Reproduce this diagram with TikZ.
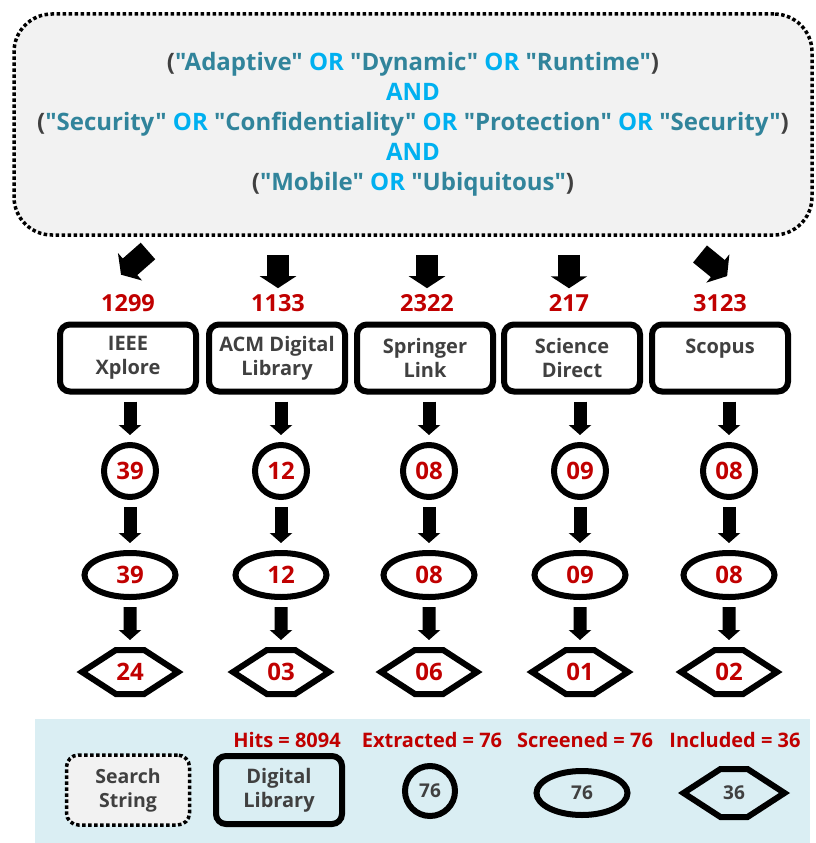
\documentclass[tikz,border=0pt]{standalone}
\usepackage{fontspec}
\setmainfont{Open Sans}[Ligatures=TeXOff]
\usetikzlibrary{shapes.geometric,shapes.symbols,arrows.meta}

\definecolor{hitred}{HTML}{C00000}
\definecolor{termteal}{HTML}{31849B}
\definecolor{opblue}{HTML}{00B0F0}
\definecolor{labelgray}{HTML}{404040}
\definecolor{queryfill}{HTML}{F2F2F2}
\definecolor{legendfill}{HTML}{DAEEF3}

\newcommand{\term}[1]{\textcolor{termteal}{"#1"}}
\newcommand{\op}[1]{\textcolor{opblue}{#1}}

\begin{document}
\begin{tikzpicture}[x=1pt, y=-1pt,
		querybox/.style={draw, line width=3.5pt, dash pattern=on 3.5pt off 2.5pt, fill=queryfill, text=labelgray, align=center},
		libbox/.style={draw, line width=6pt, rounded corners=10pt, minimum width=136pt, minimum height=67pt, text=labelgray, align=center, font=\bfseries\fontsize{20}{24}\selectfont},
		hits/.style={text=hitred, inner sep=1pt, font=\bfseries\fontsize{23.5}{26}\selectfont},
		numnode/.style={draw, line width=6pt, inner sep=0pt, text=hitred, font=\bfseries\fontsize{24}{26}\selectfont},
		extracted/.style={numnode, circle, minimum size=52pt},
		screened/.style={numnode, ellipse, minimum width=91pt, minimum height=44pt},
		included/.style={numnode, signal, signal to=west and east, signal pointer angle=66, minimum width=96pt, minimum height=44pt},
		bigarrow/.style={line width=22pt, -{Triangle[length=12pt, width=36pt]}},
		smallarrow/.style={line width=13pt, -{Triangle[length=10pt, width=22pt]}, shorten <=7pt, shorten >=7pt},
	]
	\useasboundingbox (0,0) rectangle (815,843);

	% Search string
	\node[querybox, rounded corners=38pt, minimum width=798pt, minimum height=221pt, font=\bfseries\fontsize{24}{30}\selectfont] (query) at (413,124.5)
		{(\term{Adaptive} \op{OR} \term{Dynamic} \op{OR} \term{Runtime})\\
		\op{AND}\\
		(\term{Security} \op{OR} \term{Confidentiality} \op{OR} \term{Protection} \op{OR} \term{Security})\\
		\op{AND}\\
		(\term{Mobile} \op{OR} \term{Ubiquitous})};

	% Hits per library
	\node[hits] (ieeeHits) at (128,303) {1299};
	\node[hits] (acmHits) at (278,303) {1133};
	\node[hits] (springerHits) at (427,303) {2322};
	\node[hits] (scienceHits) at (569,303) {217};
	\node[hits] (scopusHits) at (720,303) {3123};

	\coordinate (ieeeTail) at (148,251);
	\coordinate (scopusTail) at (700,254);
	\draw[bigarrow, shorten >=28pt] (ieeeTail) -- (ieeeHits.north west);
	\draw[bigarrow, shorten <=18pt, shorten >=5pt] (query.south -| acmHits) -- (acmHits.north);
	\draw[bigarrow, shorten <=18pt, shorten >=5pt] (query.south -| springerHits) -- (springerHits.north);
	\draw[bigarrow, shorten <=18pt, shorten >=5pt] (query.south -| scienceHits) -- (scienceHits.north);
	\draw[bigarrow, shorten >=27pt] (scopusTail) -- (scopusHits.north east);

	% Digital libraries
	\node[libbox] (ieee) at (128,358) {IEEE\\Xplore};
	\node[libbox] (acm) at (277,358) {ACM Digital\\Library};
	\node[libbox] (springer) at (425,358) {Springer\\Link};
	\node[libbox] (science) at (572,358) {Science\\Direct};
	\node[libbox] (scopus) at (720,358) {Scopus\\~};

	% Extracted
	\node[extracted] (ieeeExt) at (130,471) {39};
	\node[extracted] (acmExt) at (281,471) {12};
	\node[extracted] (springerExt) at (429,471) {08};
	\node[extracted] (scienceExt) at (580,471) {09};
	\node[extracted] (scopusExt) at (729,471) {08};

	% Screened
	\node[screened] (ieeeScr) at (130,575) {39};
	\node[screened] (acmScr) at (281,575) {12};
	\node[screened] (springerScr) at (429,575) {08};
	\node[screened] (scienceScr) at (580,575) {09};
	\node[screened] (scopusScr) at (729,575) {08};

	% Included
	\node[included] (ieeeInc) at (130,672) {24};
	\node[included] (acmInc) at (281,672) {03};
	\node[included] (springerInc) at (429,672) {06};
	\node[included] (scienceInc) at (580,672) {01};
	\node[included] (scopusInc) at (729,672) {02};

	% Arrows between the stages
	\draw[smallarrow] (ieee.south -| ieeeExt) -- (ieeeExt.north);
	\draw[smallarrow] (acm.south -| acmExt) -- (acmExt.north);
	\draw[smallarrow] (springer.south -| springerExt) -- (springerExt.north);
	\draw[smallarrow] (science.south -| scienceExt) -- (scienceExt.north);
	\draw[smallarrow] (scopus.south -| scopusExt) -- (scopusExt.north);

	\draw[smallarrow] (ieeeExt) -- (ieeeScr);
	\draw[smallarrow] (acmExt) -- (acmScr);
	\draw[smallarrow] (springerExt) -- (springerScr);
	\draw[smallarrow] (scienceExt) -- (scienceScr);
	\draw[smallarrow] (scopusExt) -- (scopusScr);

	\draw[smallarrow] (ieeeScr) -- (ieeeInc);
	\draw[smallarrow] (acmScr) -- (acmInc);
	\draw[smallarrow] (springerScr) -- (springerInc);
	\draw[smallarrow] (scienceScr) -- (scienceInc);
	\draw[smallarrow] (scopusScr) -- (scopusInc);

	% Legend
	\fill[legendfill] (35,719) rectangle (810,843);
	\node[querybox, rounded corners=12pt, minimum width=123pt, minimum height=70pt, font=\bfseries\fontsize{19.5}{24}\selectfont] (keySearch) at (128,790) {Search\\String};
	\node[libbox, minimum width=126pt, minimum height=68pt] (keyLib) at (279,790) {Digital\\Library};
	\node[extracted, minimum size=50pt, text=labelgray, font=\bfseries\fontsize{19}{22}\selectfont] (keyExt) at (430,791) {76};
	\node[screened, text=labelgray, font=\bfseries\fontsize{19}{22}\selectfont] (keyScr) at (582,793) {76};
	\node[included, minimum width=101pt, minimum height=48pt, text=labelgray, font=\bfseries\fontsize{19}{22}\selectfont] (keyInc) at (734,793) {36};

	\node[hits, font=\bfseries\fontsize{20}{24}\selectfont] (keyHits) at (287,740) {Hits = 8094};
	\node[hits, font=\bfseries\fontsize{20}{24}\selectfont] (keyExtText) at (432,740) {Extracted = 76};
	\node[hits, font=\bfseries\fontsize{20}{24}\selectfont] (keyScrText) at (585,740) {Screened = 76};
	\node[hits, font=\bfseries\fontsize{20}{24}\selectfont] (keyIncText) at (735,740) {Included = 36};
\end{tikzpicture}
\end{document}
